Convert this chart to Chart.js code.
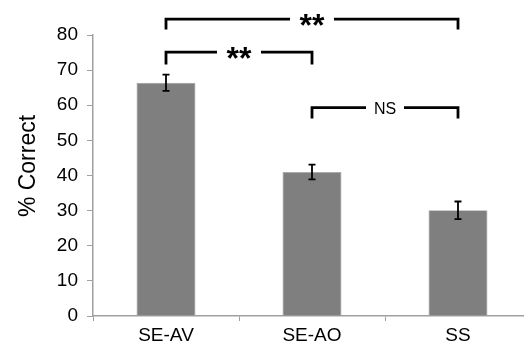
<!DOCTYPE html>
<html lang="en">
<head>
<meta charset="UTF-8">
<title>% Correct by condition</title>
<script src="https://cdn.jsdelivr.net/npm/chart.js"></script>
<style>
  * { box-sizing: border-box; margin: 0; padding: 0; }
  html, body { width: 524px; height: 344px; overflow: hidden; background: #fff; }
  #wrap { width: 540px; height: 344px; }
</style>
</head>
<body>
<div id="wrap"><canvas id="chart" width="540" height="344"></canvas></div>
<script>
// ─── data ─────────────────────────────────────────────────────────────────────
const categories = ['SE-AV', 'SE-AO', 'SS'];
const percentCorrect = [66.4, 41.0, 30.1];
const stdError = [2.3, 2.1, 2.5];
const yTicks = [0, 10, 20, 30, 40, 50, 60, 70, 80];
const yTitle = '% Correct';

// significance brackets: [from index, to index, bar y, leg end y, label]
const brackets = [
  [0, 2, 84.5, 81.6, '**'],
  [0, 1, 75.1, 71.6, '**'],
  [1, 2, 59.3, 56.2, 'NS'],
];

const FONT = '"Liberation Sans", Arial, sans-serif';

// y title, error bars and brackets drawn on top of the bars
const annotations = {
  id: 'annotations',
  afterDatasetsDraw(chart) {
    const { ctx, scales: { x, y } } = chart;
    ctx.save();
    ctx.strokeStyle = '#000';
    ctx.fillStyle = '#000';

    // y axis title (sits a bit above the plot's vertical centre, like the original)
    ctx.save();
    ctx.translate(35, 166);
    ctx.rotate(-Math.PI / 2);
    ctx.font = '23px ' + FONT;
    ctx.textAlign = 'center';
    ctx.textBaseline = 'alphabetic';
    ctx.fillText(yTitle, 0, 0);
    ctx.restore();

    // error bars
    ctx.lineWidth = 1.8;
    percentCorrect.forEach((v, i) => {
      const cx = x.getPixelForValue(i);
      const top = y.getPixelForValue(v + stdError[i]);
      const bot = y.getPixelForValue(v - stdError[i]);
      ctx.beginPath();
      ctx.moveTo(cx, top); ctx.lineTo(cx, bot);
      ctx.moveTo(cx - 3.5, top); ctx.lineTo(cx + 3.5, top);
      ctx.moveTo(cx - 3.5, bot); ctx.lineTo(cx + 3.5, bot);
      ctx.stroke();
    });

    // brackets
    ctx.lineWidth = 2.8;
    ctx.lineCap = 'butt';
    ctx.textAlign = 'center';
    ctx.textBaseline = 'alphabetic';
    brackets.forEach(([a, b, yv, legv, label]) => {
      const x1 = x.getPixelForValue(a);
      const x2 = x.getPixelForValue(b);
      const yy = y.getPixelForValue(yv);
      const yl = y.getPixelForValue(legv);
      const mid = (x1 + x2) / 2;
      const stars = label === '**';
      ctx.font = stars ? 'bold 32px ' + FONT : '16px ' + FONT;
      const gap = stars ? 22 : 19;
      ctx.beginPath();
      ctx.moveTo(x1, yl); ctx.lineTo(x1, yy); ctx.lineTo(mid - gap, yy);
      ctx.moveTo(mid + gap, yy); ctx.lineTo(x2, yy); ctx.lineTo(x2, yl);
      ctx.stroke();
      ctx.fillText(label, mid, stars ? yy + 17 : yy + 6);
    });
    ctx.restore();
  }
};

new Chart(document.getElementById('chart'), {
  type: 'bar',
  data: {
    labels: categories,
    datasets: [{
      data: percentCorrect,
      backgroundColor: '#7f7f7f',
      borderColor: '#a6a6a6',
      borderWidth: 0.8,
      categoryPercentage: 1,
      barPercentage: 0.404,
    }]
  },
  options: {
    responsive: false,
    animation: false,
    layout: { padding: { top: 35, right: 9, left: 0, bottom: 0 } },
    plugins: { legend: { display: false }, tooltip: { enabled: false } },
    scales: {
      x: {
        afterFit: s => { s.height = 28; },
        grid: { drawOnChartArea: false, color: '#a0a0a0', tickLength: 5, offset: true },
        border: { color: '#a0a0a0', width: 1.5 },
        ticks: { color: '#000', font: { family: FONT, size: 19 }, padding: 3 },
      },
      y: {
        min: 0,
        max: 80,
        afterFit: s => { s.width = 93; },
        afterBuildTicks: s => { s.ticks = yTicks.map(v => ({ value: v })); },
        grid: { drawOnChartArea: false, color: '#a0a0a0', tickLength: 6 },
        border: { color: '#a0a0a0', width: 1.5 },
        ticks: { color: '#000', font: { family: FONT, size: 19 }, padding: 9 },
      },
    },
  },
  plugins: [annotations],
});
</script>
</body>
</html>
